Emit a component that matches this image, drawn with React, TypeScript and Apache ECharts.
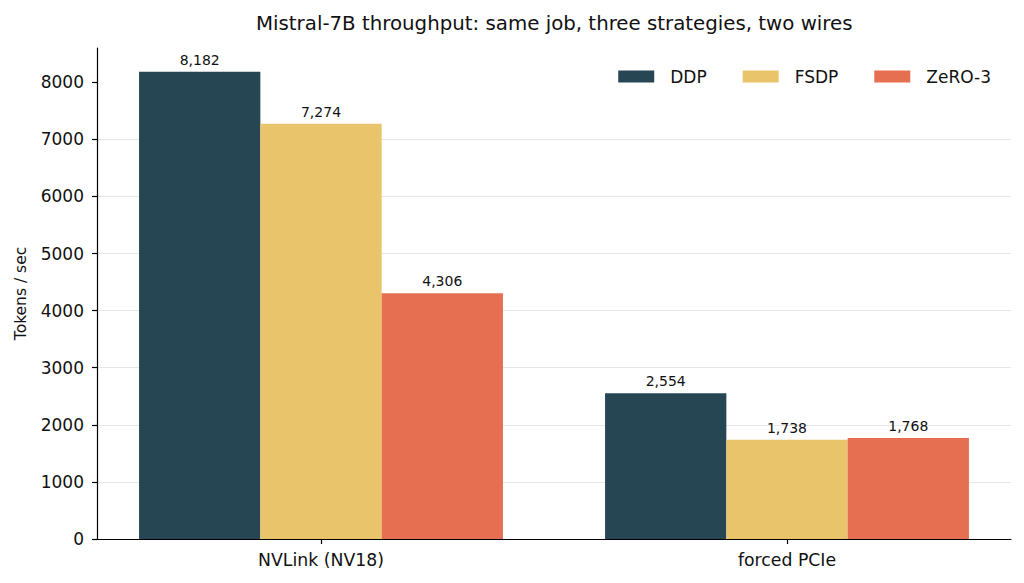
import React, { useEffect, useRef } from "react";
import * as echarts from "echarts";

const categories = ["NVLink (NV18)", "forced PCIe"];
const seriesNames = ["DDP", "FSDP", "ZeRO-3"];
const ddpValues = [8182, 2554];
const fsdpValues = [7274, 1738];
const zeroValues = [4306, 1768];
const yTicks = [0, 1000, 2000, 3000, 4000, 5000, 6000, 7000, 8000];
const colors = ["#264653", "#e9c46a", "#e76f51"];

const FONT = "DejaVu Sans";

export default function App() {
  const ref = useRef<HTMLDivElement>(null);
  useEffect(() => {
    if (!ref.current) return;
    const chart = echarts.init(ref.current, undefined, { renderer: "svg" });
    const allValues = [ddpValues, fsdpValues, zeroValues];
    const series = seriesNames.map((name, i) => ({
      name,
      type: "bar",
      data: allValues[i].map((v, j) => [j, v]),
      barWidth: 121.3,
      barGap: "0%",
      itemStyle: { color: colors[i] },
      label: {
        show: true,
        position: "top",
        distance: 5,
        fontFamily: FONT,
        fontSize: 14,
        color: "#111",
        formatter: (p: any) => Number(p.value[1]).toLocaleString("en-US"),
      },
    }));
    chart.setOption({
      animation: false,
      textStyle: { fontFamily: FONT },
      title: {
        text: "Mistral-7B throughput: same job, three strategies, two wires",
        left: 251,
        top: 8,
        textStyle: { fontFamily: FONT, fontSize: 19.8, fontWeight: "normal", color: "#111" },
      },
      legend: {
        data: seriesNames,
        right: 28,
        top: 63,
        itemWidth: 36,
        itemHeight: 12,
        itemGap: 36,
        icon: "rect",
        textStyle: { fontFamily: FONT, fontSize: 17, color: "#111", padding: [0, 0, 0, 11] },
      },
      grid: { left: 97, right: 13, top: 48, bottom: 44, containLabel: false },
      xAxis: {
        type: "value",
        min: -0.4807,
        max: 1.4807,
        axisLine: { show: true, onZero: false, lineStyle: { color: "#000", width: 1.2 } },
        axisTick: { show: true, length: 5, lineStyle: { color: "#000", width: 1.2 }, customValues: [0, 1] },
        axisLabel: {
          customValues: [0, 1],
          formatter: (v: number) => categories[Math.round(v)] ?? "",
          fontFamily: FONT,
          fontSize: 17.3,
          color: "#111",
          margin: 12,
        },
        splitLine: { show: false },
      },
      yAxis: {
        type: "value",
        min: 0,
        max: 8600,
        interval: 1000,
        name: "Tokens / sec",
        nameLocation: "middle",
        nameGap: 68,
        nameTextStyle: { fontFamily: FONT, fontSize: 15.5, color: "#111" },
        axisLine: { show: true, onZero: false, lineStyle: { color: "#000", width: 1.2 } },
        axisTick: { show: true, length: 5, lineStyle: { color: "#000", width: 1.2 }, customValues: yTicks },
        axisLabel: {
          customValues: yTicks,
          formatter: (v: number) => String(v),
          fontFamily: FONT,
          fontSize: 17,
          color: "#111",
          margin: 13,
        },
        splitLine: { show: true, showMinLine: false, showMaxLine: false, lineStyle: { color: "#e6e6e6", width: 1 } },
      },
      series,
    });
    return () => chart.dispose();
  }, []);
  return (
    <div
      ref={ref}
      style={{ position: "absolute", left: 0, top: 0, width: 1024, height: 583, background: "#fff" }}
    />
  );
}
